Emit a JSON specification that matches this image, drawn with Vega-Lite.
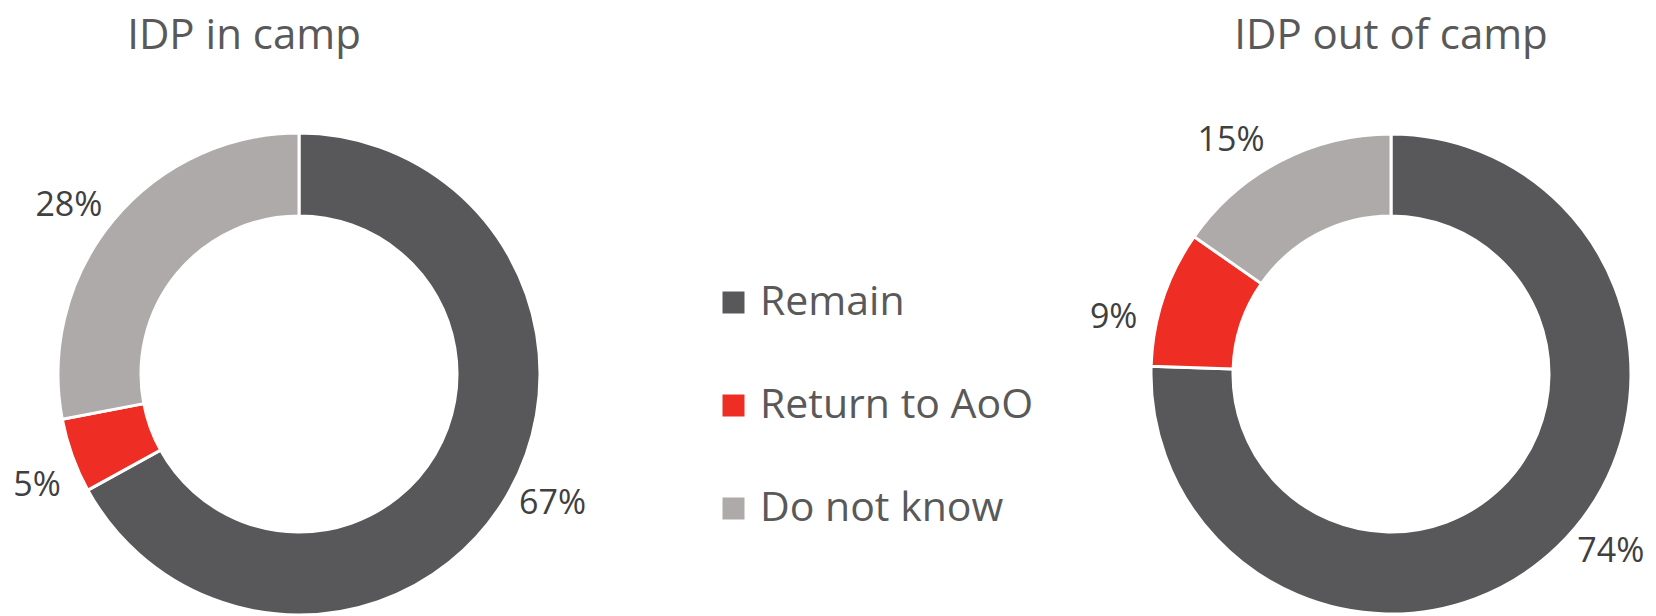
{
  "$schema": "https://vega.github.io/schema/vega-lite/v6.json",
  "padding": {"top": 15, "left": 0, "right": 0, "bottom": 0},
  "background": "white",
  "config": {"view": {"stroke": null}, "font": "Open Sans"},
  "datasets": {
    "incamp": [
      {"category": "Remain", "value": 0.67},
      {"category": "Return to AoO", "value": 0.05},
      {"category": "Do not know", "value": 0.28}
    ],
    "outcamp": [
      {"category": "Remain", "value": 0.74},
      {"category": "Return to AoO", "value": 0.09},
      {"category": "Do not know", "value": 0.15}
    ],
    "categories": [
      {"category": "Remain", "rank": 1},
      {"category": "Return to AoO", "rank": 2},
      {"category": "Do not know", "rank": 3}
    ]
  },
  "spacing": 491,
  "resolve": {"scale": {"color": "shared", "theta": "independent"}, "legend": {"color": "shared"}},
  "hconcat": [
    {
      "data": {"name": "incamp"},
      "transform": [{"lookup": "category", "from": {"data": {"name": "categories"}, "key": "category", "fields": ["rank"]}}],
      "width": 598,
      "height": 642,
      "title": {"text": "IDP in camp", "fontSize": 42, "font": "Open Sans", "fontWeight": "normal", "color": "#595959", "anchor": "middle", "dx": -55, "offset": -5},
      "encoding": {
        "theta": {"field": "value", "type": "quantitative", "stack": "normalize"},
        "order": {"field": "rank", "type": "quantitative", "sort": "ascending"},
        "color": {
          "field": "category", "type": "nominal",
          "sort": ["Remain", "Return to AoO", "Do not know"],
          "scale": {"domain": ["Remain", "Return to AoO", "Do not know"], "range": ["#58585A", "#EE2D24", "#AEAAA9"]},
          "legend": {"title": null, "orient": "none", "legendX": 713, "legendY": 229, "symbolType": "square", "symbolSize": 484, "symbolStrokeWidth": 0, "symbolOpacity": 1, "labelFontSize": 41, "labelFont": "Open Sans", "labelColor": "#595959", "labelLimit": 0, "rowPadding": 61, "labelOffset": 6}
        }
      },
      "layer": [
        {"mark": {"type": "arc", "outerRadius": 241, "innerRadius": 158, "stroke": "white", "strokeWidth": 3}},
        {"mark": {"type": "text", "radius": 285, "thetaOffset": -0.06, "fontSize": 34, "font": "Open Sans"},
         "encoding": {"text": {"field": "value", "type": "quantitative", "format": ".0%"}, "fill": {"value": "#404040"}}}
      ]
    },
    {
      "data": {"name": "outcamp"},
      "transform": [{"lookup": "category", "from": {"data": {"name": "categories"}, "key": "category", "fields": ["rank"]}}],
      "width": 530,
      "height": 642,
      "title": {"text": "IDP out of camp", "fontSize": 42, "font": "Open Sans", "fontWeight": "normal", "color": "#595959", "anchor": "middle", "offset": -5},
      "encoding": {
        "theta": {"field": "value", "type": "quantitative", "stack": "normalize"},
        "order": {"field": "rank", "type": "quantitative", "sort": "ascending"},
        "color": {
          "field": "category", "type": "nominal",
          "sort": ["Remain", "Return to AoO", "Do not know"],
          "scale": {"domain": ["Remain", "Return to AoO", "Do not know"], "range": ["#58585A", "#EE2D24", "#AEAAA9"]}
        }
      },
      "layer": [
        {"mark": {"type": "arc", "outerRadius": 240, "innerRadius": 158, "stroke": "white", "strokeWidth": 3}},
        {"mark": {"type": "text", "radius": 283, "thetaOffset": -0.12, "fontSize": 34, "font": "Open Sans"},
         "encoding": {"text": {"field": "value", "type": "quantitative", "format": ".0%"}, "fill": {"value": "#404040"}}}
      ]
    }
  ]
}
